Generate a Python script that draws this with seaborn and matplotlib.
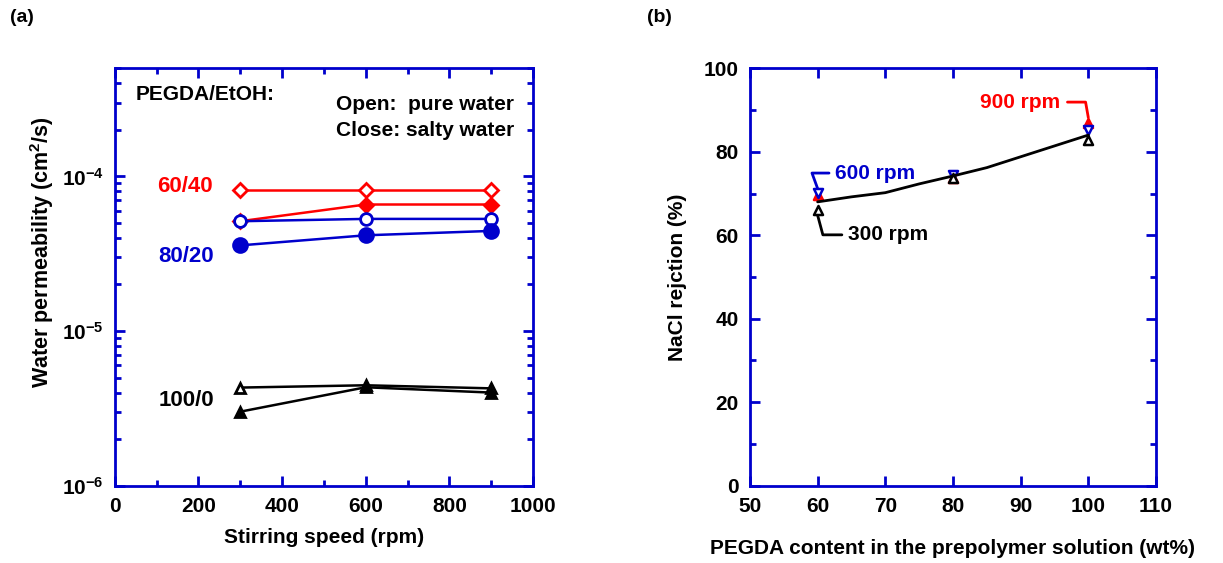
import matplotlib
matplotlib.use("Agg")
import matplotlib.pyplot as plt
import seaborn as sns
from matplotlib.ticker import FixedLocator, MultipleLocator, LogLocator, FixedFormatter, NullFormatter

# ---------------- data (a) ----------------
speed = [300, 600, 900]
p6040_open = [8.2e-5, 8.2e-5, 8.2e-5]
p6040_close = [5.13e-5, 6.58e-5, 6.58e-5]
p8020_open = [5.13e-5, 5.31e-5, 5.31e-5]
p8020_close = [3.58e-5, 4.16e-5, 4.44e-5]
p1000_open = [4.31e-6, 4.46e-6, 4.26e-6]
p1000_close = [3.01e-6, 4.33e-6, 4.00e-6]

# ---------------- data (b) ----------------
pegda = [60, 80, 100]
rej_300 = [66.0, 73.6, 82.8]
rej_600 = [70.2, 74.4, 85.1]
rej_900 = [69.6, 73.8, 87.0]
fit_x = [60, 65, 70, 75, 80, 85, 90, 95, 100]
fit_y = [68.0, 69.2, 70.2, 72.3, 74.2, 76.2, 78.8, 81.4, 84.0]

# ---------------- ticks ----------------
a_xticks = [0, 200, 400, 600, 800, 1000]
a_yticks = [1e-6, 1e-5, 1e-4]
a_yticklabels = [r"$10^{-6}$", r"$10^{-5}$", r"$10^{-4}$"]
b_xticks = [50, 60, 70, 80, 90, 100, 110]
b_yticks = [0, 20, 40, 60, 80, 100]

BLUE = "#0000CC"
RED = "#FF0000"
BLACK = "#000000"

sns.set_style("white")
plt.rcParams["font.family"] = ["Liberation Sans", "DejaVu Sans"]
plt.rcParams["font.weight"] = "bold"
plt.rcParams["axes.labelweight"] = "bold"
plt.rcParams["text.color"] = "black"
plt.rcParams["axes.labelcolor"] = "black"
plt.rcParams["mathtext.fontset"] = "custom"
plt.rcParams["mathtext.rm"] = "Liberation Sans:bold"
plt.rcParams["mathtext.bf"] = "Liberation Sans:bold"
plt.rcParams["mathtext.it"] = "Liberation Sans:bold"
plt.rcParams["mathtext.default"] = "rm"

FS = 15

fig = plt.figure(figsize=(12.23, 5.63), dpi=100)
axa = fig.add_axes([0.0938, 0.1373, 0.342, 0.7414])
axb = fig.add_axes([0.6132, 0.1373, 0.332, 0.7414])


def style(ax):
    for sp in ax.spines.values():
        sp.set_color(BLUE)
        sp.set_linewidth(2.0)
    ax.tick_params(which="both", direction="in", top=True, right=True,
                   bottom=True, left=True,
                   color=BLUE, width=2.0, labelsize=FS, labelcolor="black")
    ax.tick_params(which="major", length=7.5, pad=8)
    ax.tick_params(which="minor", length=4.5)
    for lab in ax.get_xticklabels() + ax.get_yticklabels():
        lab.set_fontweight("bold")


# ---------------- panel (a) ----------------
def series(ax, x, y, color, marker, filled, ms):
    sns.lineplot(x=x, y=y, ax=ax, color=color, linewidth=1.8, marker=marker,
                 markersize=ms, markerfacecolor=color if filled else "white",
                 markeredgecolor=color, markeredgewidth=2.0, estimator=None,
                 sort=False, legend=False)

series(axa, speed, p6040_close, RED, "D", True, 7)
series(axa, speed, p6040_open, RED, "D", False, 7)
series(axa, speed, p8020_open, BLUE, "o", False, 8.5)
series(axa, speed, p8020_close, BLUE, "o", True, 10)
series(axa, speed, p1000_open, BLACK, "^", False, 6.5)
series(axa, speed, p1000_close, BLACK, "^", True, 6.5)

axa.set_yscale("log")
axa.set_xlim(0, 1000)
axa.set_ylim(1e-6, 5e-4)
axa.xaxis.set_major_locator(FixedLocator(a_xticks))
axa.xaxis.set_minor_locator(MultipleLocator(100))
axa.yaxis.set_major_locator(FixedLocator(a_yticks))
axa.yaxis.set_major_formatter(FixedFormatter(a_yticklabels))
axa.yaxis.set_minor_locator(LogLocator(base=10, subs=range(2, 10)))
axa.yaxis.set_minor_formatter(NullFormatter())
style(axa)
axa.set_xlabel("Stirring speed (rpm)", fontsize=FS, fontweight="bold", labelpad=9)
axa.set_ylabel("Water permeability (cm$^2$/s)", fontsize=FS + 0.5, fontweight="bold",
               labelpad=4, y=0.56)

axa.text(0.051, 0.938, "PEGDA/EtOH:", transform=axa.transAxes, fontsize=FS,
         fontweight="bold", ha="left", va="center")
axa.text(0.529, 0.914, "Open:  pure water", transform=axa.transAxes, fontsize=FS,
         fontweight="bold", ha="left", va="center")
axa.text(0.529, 0.852, "Close: salty water", transform=axa.transAxes, fontsize=FS,
         fontweight="bold", ha="left", va="center")
axa.text(0.168, 0.718, "60/40", transform=axa.transAxes, fontsize=FS + 1,
         fontweight="bold", color=RED, ha="center", va="center")
axa.text(0.171, 0.550, "80/20", transform=axa.transAxes, fontsize=FS + 1,
         fontweight="bold", color=BLUE, ha="center", va="center")
axa.text(0.171, 0.205, "100/0", transform=axa.transAxes, fontsize=FS + 1,
         fontweight="bold", color=BLACK, ha="center", va="center")

# ---------------- panel (b) ----------------
def pts(ax, x, y, color, marker, filled, ms):
    sns.scatterplot(x=x, y=y, ax=ax, marker=marker, s=ms ** 2,
                    facecolor=color if filled else "white", edgecolor=color,
                    linewidth=1.8, legend=False, zorder=3)

pts(axb, pegda, rej_900, RED, "^", True, 6.5)
pts(axb, pegda, rej_600, BLUE, "v", False, 6.5)
pts(axb, pegda, rej_300, BLACK, "^", False, 6.5)
sns.lineplot(x=fit_x, y=fit_y, ax=axb, color=BLACK, linewidth=2.0,
             estimator=None, sort=False, legend=False, zorder=4)

axb.set_xlim(50, 110)
axb.set_ylim(0, 100)
axb.xaxis.set_major_locator(FixedLocator(b_xticks))
axb.yaxis.set_major_locator(FixedLocator(b_yticks))
axb.yaxis.set_minor_locator(MultipleLocator(10))
style(axb)
axb.set_xlabel("PEGDA content in the prepolymer solution (wt%)", fontsize=FS,
               fontweight="bold", labelpad=17)
axb.set_ylabel("NaCl rejction (%)", fontsize=FS, fontweight="bold", labelpad=12)

axb.annotate("900 rpm", xy=(pegda[2], rej_900[2] + 1.2), xytext=(89.9, 91.9),
             color=RED, fontsize=FS, fontweight="bold", ha="center", va="center",
             arrowprops=dict(arrowstyle="-", color=RED, lw=2,
                             connectionstyle="angle,angleA=0,angleB=100,rad=0",
                             shrinkA=3, shrinkB=0))
axb.annotate("600 rpm", xy=(pegda[0], rej_600[0] + 1.0), xytext=(68.5, 74.9),
             color=BLUE, fontsize=FS, fontweight="bold", ha="center", va="center",
             arrowprops=dict(arrowstyle="-", color=BLUE, lw=2,
                             connectionstyle="angle,angleA=180,angleB=110,rad=0",
                             shrinkA=2, shrinkB=0))
axb.annotate("300 rpm", xy=(pegda[0], rej_300[0] - 1.2), xytext=(70.4, 60.1),
             color=BLACK, fontsize=FS, fontweight="bold", ha="center", va="center",
             arrowprops=dict(arrowstyle="-", color=BLACK, lw=2,
                             connectionstyle="angle,angleA=180,angleB=-75,rad=0",
                             shrinkA=2, shrinkB=0))

fig.text(10 / 1223, 1 - 18 / 563, "(a)", fontsize=14, fontweight="bold",
         ha="left", va="center")
fig.text(647 / 1223, 1 - 18 / 563, "(b)", fontsize=14, fontweight="bold",
         ha="left", va="center")

fig.savefig("out.png", dpi=100)
